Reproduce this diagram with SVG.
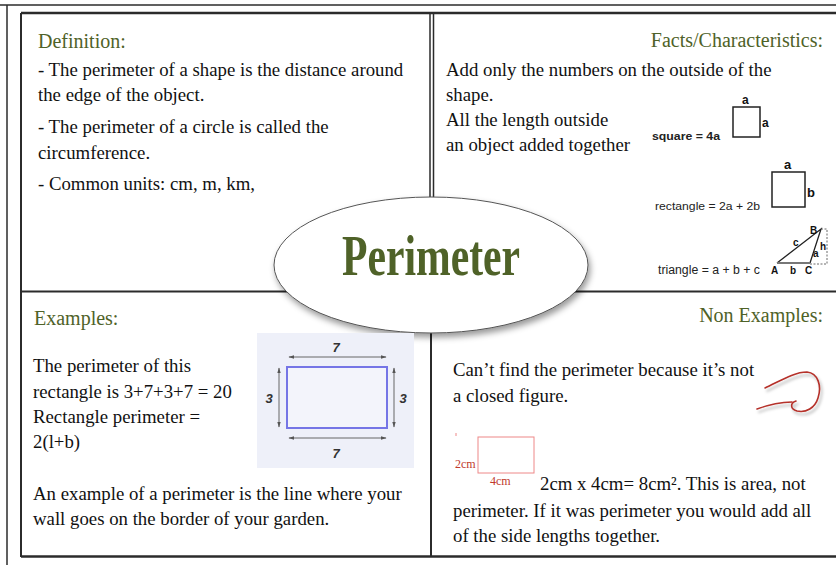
<svg xmlns="http://www.w3.org/2000/svg" width="836" height="565" viewBox="0 0 836 565">
<defs>
<style>
.hd{font-family:"Liberation Serif",serif;font-size:20px;fill:#4f6228}
.tx{font-family:"Liberation Serif",serif;font-size:18.8px;fill:#111}
.sm{font-family:"Liberation Sans",sans-serif;fill:#222;font-weight:bold}
.lb{font-family:"Liberation Sans",sans-serif;font-weight:bold;fill:#111}
.dim{font-family:"Liberation Sans",sans-serif;font-size:13px;font-weight:bold;font-style:italic;fill:#333}
.red{font-family:"Liberation Serif",serif;font-size:12px;fill:#c0392b}
.frame{stroke:#2b2b2b;fill:none}
.arr{stroke:#666;stroke-width:1;fill:none;marker-start:url(#ah);marker-end:url(#ah)}
</style>
<marker id="ah" viewBox="0 0 10 10" refX="9" refY="5" markerWidth="6" markerHeight="6" orient="auto-start-reverse">
<path d="M0,2 L10,5 L0,8 z" fill="#555"/>
</marker>
<filter id="sh" x="-10%" y="-10%" width="120%" height="130%">
<feDropShadow dx="2" dy="4" stdDeviation="3" flood-color="#000" flood-opacity="0.4"/>
</filter>
<filter id="sh2" x="-20%" y="-20%" width="140%" height="160%">
<feDropShadow dx="2" dy="3" stdDeviation="1.5" flood-color="#000" flood-opacity="0.3"/>
</filter>
</defs>
<rect width="836" height="565" fill="#fff"/>

<g id="connectors">
<line class="frame" x1="0" y1="5" x2="836" y2="5" stroke-width="1.5"/>
<line class="frame" x1="7" y1="5" x2="7" y2="565" stroke-width="1.5"/>
<line class="frame" x1="21" y1="13" x2="836" y2="13" stroke-width="2.5"/>
<line class="frame" x1="21" y1="13" x2="21" y2="557" stroke-width="2"/>
<line class="frame" x1="21" y1="556.5" x2="836" y2="556.5" stroke-width="2.5"/>
<line class="frame" x1="430" y1="13" x2="430" y2="291" stroke-width="1.5"/>
<line class="frame" x1="433.5" y1="13" x2="433.5" y2="291" stroke-width="1.5"/>
<line class="frame" x1="431" y1="291" x2="431" y2="557" stroke-width="2"/>
<line class="frame" x1="21" y1="291.5" x2="836" y2="291.5" stroke-width="2"/>
</g>

<g id="center">
<ellipse cx="431" cy="265" rx="157" ry="68" fill="#fff" stroke="#555" stroke-width="1" filter="url(#sh)"/>
<text x="431" y="275" text-anchor="middle" font-family="Liberation Serif,serif" font-weight="bold" font-size="58" fill="#4f6228" textLength="178" lengthAdjust="spacingAndGlyphs">Perimeter</text>
</g>

<g id="definition">
<text class="hd" x="38" y="48">Definition:</text>
<text class="tx" x="38" y="76">- The perimeter of a shape is the distance around</text>
<text class="tx" x="38" y="101">the edge of the object.</text>
<text class="tx" x="38" y="133">- The perimeter of a circle is called the</text>
<text class="tx" x="38" y="159">circumference.</text>
<text class="tx" x="38" y="190">- Common units: cm, m, km,</text>
</g>

<g id="facts">
<text class="hd" x="823" y="47" text-anchor="end">Facts/Characteristics:</text>
<text class="tx" x="446" y="76">Add only the numbers on the outside of the</text>
<text class="tx" x="446" y="101">shape.</text>
<text class="tx" x="446" y="126">All the length outside</text>
<text class="tx" x="446" y="151">an object added together</text>
<text class="sm" x="652" y="140" style="font-size:10px" textLength="68" lengthAdjust="spacingAndGlyphs">square = 4a</text>
<rect x="733" y="107" width="27" height="30" fill="#fff" stroke="#222" stroke-width="1.5"/>
<text class="lb" x="742" y="104" style="font-size:12px">a</text>
<text class="lb" x="762" y="127" style="font-size:12px">a</text>
<text class="sm" x="655" y="210" style="font-size:11px;font-weight:normal" textLength="105" lengthAdjust="spacingAndGlyphs">rectangle = 2a + 2b</text>
<rect x="772" y="172" width="33" height="35" fill="#fff" stroke="#222" stroke-width="1.5"/>
<text class="lb" x="784" y="169" style="font-size:13px">a</text>
<text class="lb" x="807" y="197" style="font-size:13px">b</text>
<text class="sm" x="658" y="274" style="font-size:12px;font-weight:normal" textLength="102" lengthAdjust="spacingAndGlyphs">triangle = a + b + c</text>
<path d="M777,263 L821,229 L810,263" fill="none" stroke="#222" stroke-width="1.3"/>
<line x1="777" y1="263" x2="810" y2="263" stroke="#777" stroke-width="2"/>
<path d="M821,229 L827,229 L827,264 L810,264" fill="none" stroke="#444" stroke-width="0.8" stroke-dasharray="2,1.5"/>
<text class="lb" x="810" y="234" style="font-size:10px">B</text>
<text class="lb" x="793" y="246" style="font-size:10px">c</text>
<text class="lb" x="813" y="257" style="font-size:10px">a</text>
<text class="lb" x="820" y="250" style="font-size:10px">h</text>
<text class="lb" x="771" y="274" style="font-size:10px">A</text>
<text class="lb" x="790" y="274" style="font-size:10px">b</text>
<text class="lb" x="805" y="274" style="font-size:10px">C</text>
</g>

<g id="examples">
<text class="hd" x="34" y="325">Examples:</text>
<text class="tx" x="33" y="372">The perimeter of this</text>
<text class="tx" x="33" y="398">rectangle is 3+7+3+7 = 20</text>
<text class="tx" x="33" y="423">Rectangle perimeter =</text>
<text class="tx" x="33" y="448">2(l+b)</text>
<text class="tx" x="33" y="500">An example of a perimeter is the line where your</text>
<text class="tx" x="33" y="525">wall goes on the border of your garden.</text>
<rect x="257" y="333" width="157" height="135" fill="#eef0f9"/>
<rect x="287" y="367" width="100" height="61" fill="#f3f4fb" stroke="#7575e6" stroke-width="2"/>
<line class="arr" x1="289" y1="357" x2="386" y2="357"/>
<line class="arr" x1="289" y1="438" x2="386" y2="438"/>
<line class="arr" x1="279" y1="368" x2="279" y2="427"/>
<line class="arr" x1="394" y1="368" x2="394" y2="427"/>
<text class="dim" x="336" y="352" text-anchor="middle">7</text>
<text class="dim" x="336" y="458" text-anchor="middle">7</text>
<text class="dim" x="269" y="403" text-anchor="middle">3</text>
<text class="dim" x="403" y="403" text-anchor="middle">3</text>
</g>

<g id="nonexamples">
<text class="hd" x="823" y="322" text-anchor="end">Non Examples:</text>
<text class="tx" x="453" y="376">Can’t find the perimeter because it’s not</text>
<text class="tx" x="453" y="402">a closed figure.</text>
<g fill="none" stroke="#b5302a" stroke-width="1.6" stroke-linecap="round" filter="url(#sh2)">
<path d="M765,388 C780,381 794,372 807,372 C818,373 822,386 818,398 C815,408 806,413 797,411 C790,409 790,403 796,401"/>
<path d="M792,402 C780,402 768,405 757,409"/>
</g>
<rect x="478" y="437" width="56" height="36" fill="#fff" stroke="#e88" stroke-width="1"/>
<line x1="456" y1="433" x2="456" y2="436" stroke="#e88" stroke-width="1"/>
<text class="red" x="455" y="468">2cm</text>
<text class="red" x="490" y="485">4cm</text>
<text class="tx" x="540" y="490">2cm x 4cm= 8cm². This is area, not</text>
<text class="tx" x="453" y="517">perimeter. If it was perimeter you would add all</text>
<text class="tx" x="453" y="542">of the side lengths together.</text>
</g>
</svg>
